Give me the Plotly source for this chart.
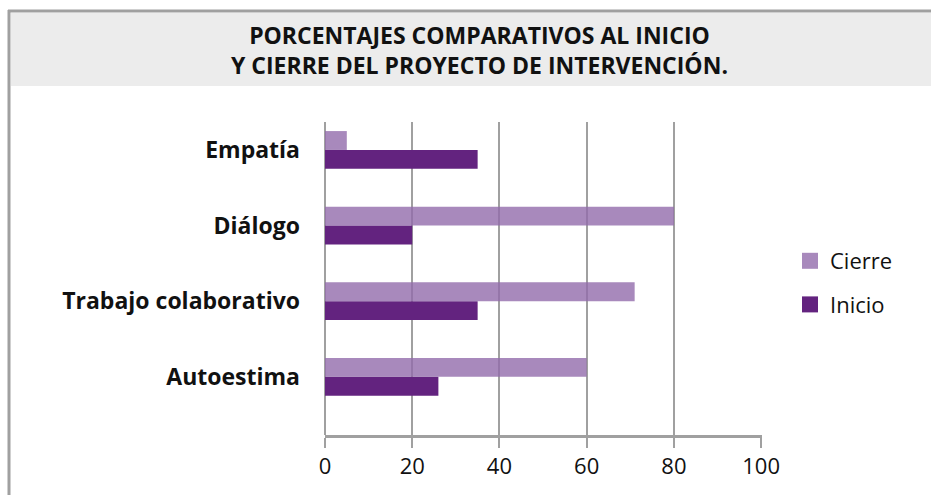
import plotly.graph_objects as go

# Data (bottom-to-top order on the y axis)
categories = ["Autoestima", "Trabajo colaborativo", "Diálogo", "Empatía"]
inicio = [26, 35, 20, 35]
cierre = [60, 71, 80, 5]
x_ticks = [0, 20, 40, 60, 80, 100]
title_lines = ["PORCENTAJES COMPARATIVOS AL INICIO", "Y CIERRE DEL PROYECTO DE INTERVENCIÓN."]

W, H = 931, 495
L, R, T, B = 325, 762, 122, 435  # plot area in pixels

def px(x):
    return (x - L) / (R - L)

def py(y):
    return (B - y) / (B - T)

FONT = "Open Sans"
TXT = "#111111"
C_INICIO = "#63237F"
C_CIERRE_SOLID = "#A889BC"
C_CIERRE = "rgba(146,108,171,0.8)"
GRID = "#A0A0A0"

fig = go.Figure()
fig.add_trace(go.Bar(y=categories, x=inicio, orientation="h", name="Inicio",
                     marker=dict(color=C_INICIO, line=dict(width=0)), showlegend=False))
fig.add_trace(go.Bar(y=categories, x=cierre, orientation="h", name="Cierre",
                     marker=dict(color=C_CIERRE, line=dict(width=0)), showlegend=False))

# legend entries (square markers), Cierre listed first
fig.add_trace(go.Scatter(x=[None], y=[None], mode="markers", name="Cierre", legendgroup="a",
                         marker=dict(symbol="square", size=18, color=C_CIERRE_SOLID)))
fig.add_trace(go.Scatter(x=[None], y=[None], mode="markers", name="Inicio", legendgroup="b",
                         marker=dict(symbol="square", size=18, color=C_INICIO)))

shapes = [
    # header band
    dict(type="rect", xref="paper", yref="paper", x0=px(11), x1=px(931), y0=py(86), y1=py(13),
         fillcolor="#ECECEC", line=dict(width=0), layer="below"),
    # frame lines
    dict(type="line", xref="paper", yref="paper", x0=px(9), x1=px(9), y0=py(10), y1=py(495),
         line=dict(color=GRID, width=3)),
    dict(type="line", xref="paper", yref="paper", x0=px(8), x1=px(931), y0=py(11), y1=py(11),
         line=dict(color=GRID, width=3)),
]

fig.update_layout(
    width=W, height=H,
    margin=dict(l=L, r=W - R, t=T, b=H - B, pad=0),
    paper_bgcolor="white", plot_bgcolor="white",
    barmode="group", bargap=0.5, bargroupgap=0,
    font=dict(family=FONT, color=TXT),
    shapes=shapes,
    annotations=[dict(text="<b>" + title_lines[0] + "<br>" + title_lines[1] + "</b>",
                      xref="paper", yref="paper", x=px(479), y=py(50),
                      xanchor="center", yanchor="middle", showarrow=False,
                      font=dict(family=FONT, size=23, color=TXT))],
    legend=dict(x=px(790), y=py(283), xanchor="left", yanchor="middle",
                traceorder="grouped", tracegroupgap=12,
                font=dict(family=FONT, size=22, color=TXT),
                bgcolor="rgba(0,0,0,0)"),
    xaxis=dict(range=[0, 100.2], tickvals=x_ticks, ticktext=[str(v) for v in x_ticks],
               showgrid=True, gridcolor=GRID, gridwidth=2,
               zeroline=True, zerolinecolor=GRID, zerolinewidth=2,
               showline=True, linecolor=GRID, linewidth=3,
               ticks="outside", ticklen=10, tickwidth=2, tickcolor=GRID,
               tickfont=dict(family=FONT, size=22, color=TXT),
               fixedrange=True),
    yaxis=dict(categoryorder="array", categoryarray=categories,
               range=[-0.77, 3.37], showgrid=False, zeroline=False, showline=False,
               ticks="", ticklabelstandoff=24,
               tickfont=dict(family=FONT, size=23, color=TXT, weight="bold"),
               fixedrange=True),
)

fig.write_html("out.html", config={"displayModeBar": False},
               post_script="document.body.style.margin='0';document.body.style.overflow='hidden';")
